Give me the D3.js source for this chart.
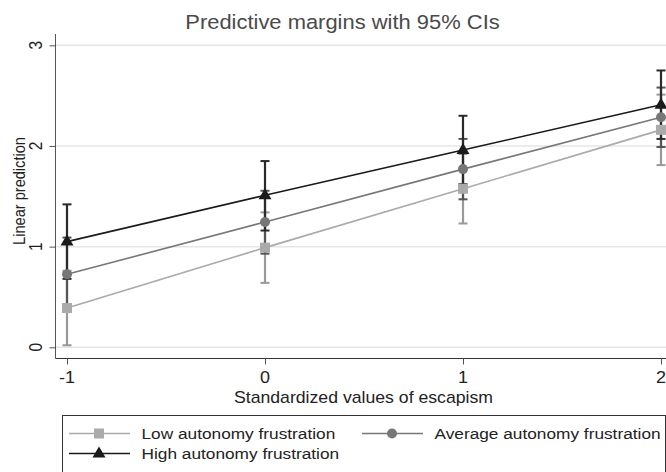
<!DOCTYPE html>
<html>
<head>
<meta charset="utf-8">
<script src="https://cdn.jsdelivr.net/npm/d3@7"></script>
<style>
  body { margin: 0; background: #fff; }
  text { font-family: "Liberation Sans", Arial, sans-serif; fill: #222; }
</style>
</head>
<body>
<svg id="chart"></svg>
<script>
// values
const xVals = [-1, 0, 1, 2];
const yTicks = [0, 1, 2, 3];

const lowMargin = [0.39, 0.99, 1.575, 2.16];
const lowLo = [0.02, 0.64, 1.23, 1.81];
const lowHi = [0.76, 1.34, 1.92, 2.51];

const avgMargin = [0.725, 1.245, 1.77, 2.285];
const avgLo = [0.36, 0.93, 1.47, 1.99];
const avgHi = [1.09, 1.555, 2.07, 2.58];

const highMargin = [1.05, 1.51, 1.96, 2.41];
const highLo = [0.68, 1.16, 1.62, 2.07];
const highHi = [1.42, 1.85, 2.30, 2.75];

const seriesNames = ['Low autonomy frustration', 'Average autonomy frustration', 'High autonomy frustration'];

const width = 666;
const height = 472;
// the original picture is a little wider than tall, text looks stretched sideways
const stretch = 1.125;

const series = [
  { name: seriesNames[0], m: lowMargin, lo: lowLo, hi: lowHi, line: '#aaaaaa', ci: '#999999', marker: 'square' },
  { name: seriesNames[1], m: avgMargin, lo: avgLo, hi: avgHi, line: '#777777', ci: '#555555', marker: 'circle' },
  { name: seriesNames[2], m: highMargin, lo: highLo, hi: highHi, line: '#1a1a1a', ci: '#2a2a2a', marker: 'triangle' },
];

const svg = d3.select('#chart').attr('width', width).attr('height', height);

const x = d3.scaleLinear().domain([-1, 2]).range([67, 661]);
const y = d3.scaleLinear().domain([0, 3]).range([347.3, 45.3]);

const axisLeftX = 55.5;
const axisBottomY = 358.5;

function label(parent, tx, ty, str, size, anchor, extra) {
  return parent.append('text')
    .attr('transform', `translate(${tx},${ty}) scale(${stretch},1)${extra || ''}`)
    .attr('text-anchor', anchor || 'start')
    .attr('font-size', size)
    .text(str);
}

// grid
svg.append('g').selectAll('line')
    .data(yTicks)
  .enter().append('line')
    .attr('x1', axisLeftX).attr('x2', width)
    .attr('y1', d => y(d)).attr('y2', d => y(d))
    .attr('stroke', '#e6e6e6').attr('stroke-width', 1.5);

// y axis
const yAxis = svg.append('g')
    .attr('transform', `translate(${axisLeftX},0)`)
    .call(d3.axisLeft(y).tickValues(yTicks).tickSize(6).tickFormat(''));
yAxis.select('.domain').attr('d', `M0,34V${axisBottomY}`).attr('stroke', '#555');
yAxis.selectAll('.tick line').attr('stroke', '#555');
yTicks.forEach(t => label(svg, 42, y(t), String(t), 15.5, 'middle', ' rotate(-90)'));

// x axis
const xAxis = svg.append('g')
    .attr('transform', `translate(0,${axisBottomY})`)
    .call(d3.axisBottom(x).tickValues(xVals).tickSize(6).tickFormat(''));
xAxis.select('.domain').attr('d', `M${axisLeftX},0H${width}`).attr('stroke', '#333');
xAxis.selectAll('.tick line').attr('stroke', '#555');
xVals.forEach(v => label(svg, x(v), 383, String(v), 16, 'middle'));

// titles
label(svg, 342.5, 28.5, 'Predictive margins with 95% CIs', 19.5, 'middle').style('fill', '#4a4a4a');
label(svg, 363.5, 402.5, 'Standardized values of escapism', 15.7, 'middle');
label(svg, 25, 191, 'Linear prediction', 14.6, 'middle', ' rotate(-90)');

// error bars (rcap)
const capHalf = 4.5;
series.forEach((s) => {
  const g = svg.append('g');
  const rows = xVals.map((v, i) => ({ x: v, lo: s.lo[i], hi: s.hi[i] }));
  g.selectAll('.bar').data(rows).enter().append('line')
    .attr('x1', d => x(d.x)).attr('x2', d => x(d.x))
    .attr('y1', d => y(d.lo)).attr('y2', d => y(d.hi))
    .attr('stroke', s.ci).attr('stroke-width', 2.2);
  ['lo', 'hi'].forEach((k) => {
    g.selectAll('.cap-' + k).data(rows).enter().append('line')
      .attr('x1', d => x(d.x) - capHalf).attr('x2', d => x(d.x) + capHalf)
      .attr('y1', d => y(d[k])).attr('y2', d => y(d[k]))
      .attr('stroke', s.ci).attr('stroke-width', 2);
  });
});

function drawMarker(g, type, color, cx, cy) {
  if (type === 'square') {
    g.append('rect').attr('x', cx - 5).attr('y', cy - 5).attr('width', 10).attr('height', 10).attr('fill', color);
  } else if (type === 'circle') {
    g.append('circle').attr('cx', cx).attr('cy', cy).attr('r', 5).attr('fill', color);
  } else {
    g.append('path')
      .attr('d', `M${cx},${cy - 7}L${cx + 6.5},${cy + 4}L${cx - 6.5},${cy + 4}Z`)
      .attr('fill', color);
  }
}

// connected lines + markers
const lineGen = d3.line().x(d => x(d.x)).y(d => y(d.m));
series.forEach((s) => {
  const rows = xVals.map((v, i) => ({ x: v, m: s.m[i] }));
  svg.append('path')
    .datum(rows)
    .attr('d', lineGen)
    .attr('fill', 'none')
    .attr('stroke', s.line)
    .attr('stroke-width', 1.6);
  const mg = svg.append('g');
  rows.forEach(d => drawMarker(mg, s.marker, s.line, x(d.x), y(d.m)));
});

// legend
const legend = svg.append('g');
legend.append('rect')
    .attr('x', 62.5).attr('y', 415.5)
    .attr('width', 603).attr('height', 70)
    .attr('fill', 'none').attr('stroke', '#333').attr('stroke-width', 1);

const legendPos = [
  { x0: 69, row: 433.5 },
  { x0: 362, row: 433.5 },
  { x0: 69, row: 453.5 },
];
series.forEach((s, i) => {
  const p = legendPos[i];
  legend.append('line')
    .attr('x1', p.x0).attr('x2', p.x0 + 61)
    .attr('y1', p.row).attr('y2', p.row)
    .attr('stroke', s.line).attr('stroke-width', 1.6);
  drawMarker(legend, s.marker, s.line, p.x0 + 30, p.row);
  label(legend, p.x0 + 72.5, p.row + 5.3, s.name, 15.35);
});
</script>
</body>
</html>
